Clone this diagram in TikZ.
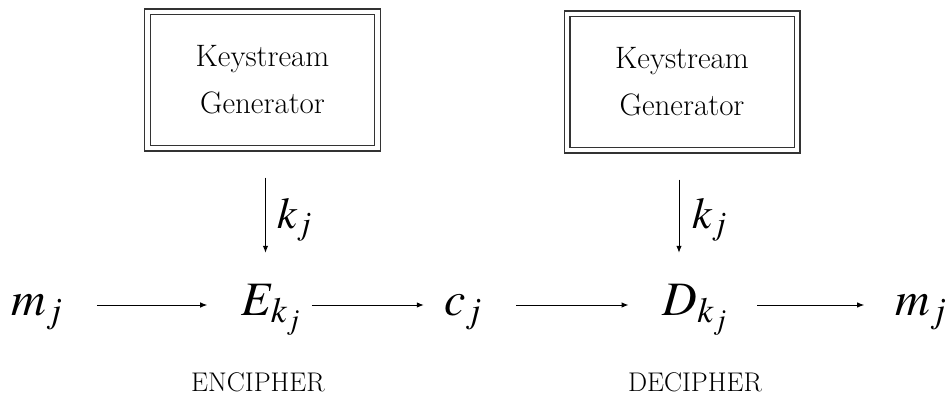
\documentclass[tikz,border=0pt]{standalone}
\usepackage{mathptmx}
\renewcommand{\rmdefault}{lmr}
\usetikzlibrary{%
    arrows.meta,
    positioning
}
\tikzset{flowarrow/.style = {-{Latex[length=7pt,width=5.5pt]}, line width=1pt}}
\tikzset{keygen/.style = {draw=black!80, double, double distance=4.6pt, line width=1.2pt,
    minimum width=230pt, minimum height=136pt, align=center,
    font=\fontsize{31}{47}\selectfont}}
\tikzset{symbol/.style = {inner sep=0pt, text height=34pt, text depth=14pt,
    font=\fontsize{48}{48}\selectfont}}
\tikzset{keylabel/.style = {inner sep=0pt, anchor=base west, font=\fontsize{44}{44}\selectfont}}
\tikzset{stage/.style = {inner sep=0pt, anchor=base, font=\fontsize{27}{27}\selectfont}}

\begin{document}
\begin{tikzpicture}[x=1pt,y=-1pt]
    \useasboundingbox (0,0) rectangle (946,396);

    \node[keygen] (kg1) at (262.5,80) {Keystream\\Generator};
    \node[keygen] (kg2) at (682,82) {Keystream\\Generator};

    \node[symbol] (m1) at (37,305) {$m_j$};
    \node[symbol] (E) at (271,305) {$E_{k_j}$};
    \node[symbol] (c) at (463,305) {$c_j$};
    \node[symbol] (D) at (695,305) {$D_{k_j}$};
    \node[symbol] (m2) at (921,305) {$m_j$};

    \foreach \x/\a/\b [remember=\x as \lastx (initially m1)] in {%
        E/34/34,
        c/11/20,
        D/34/34,
        m2/30/31%
        }
    \draw[flowarrow, shorten <=\a pt, shorten >=\b pt] (\lastx) -- (\x);

    \draw[flowarrow, shorten <=29pt, shorten >=28pt]
        ([xshift=3pt]kg1.south) -- ([xshift=3pt]kg1.south |- E.north);
    \draw[flowarrow, shorten <=29pt, shorten >=28pt]
        ([xshift=-3pt]kg2.south) -- ([xshift=-3pt]kg2.south |- D.north);

    \node[keylabel] (k1) at (277,228) {$k_j$};
    \node[keylabel] (k2) at (692,228) {$k_j$};

    \node[stage] (enc) at (258,391) {ENCIPHER};
    \node[stage] (dec) at (695,391) {DECIPHER};
\end{tikzpicture}
\end{document}
